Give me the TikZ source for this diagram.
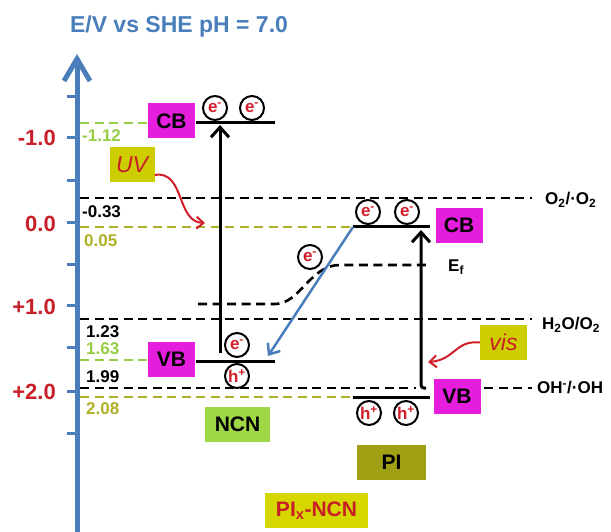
\documentclass[tikz,border=0pt]{standalone}
\usepackage{fontspec}
\setmainfont{Liberation Sans}
\usetikzlibrary{arrows.meta}
\definecolor{axblue}{RGB}{74,126,187}
\definecolor{tickred}{RGB}{200,30,40}
\definecolor{lgreen}{RGB}{150,205,70}
\definecolor{olivel}{RGB}{175,175,40}
\definecolor{magbox}{RGB}{228,30,220}
\definecolor{ncngreen}{RGB}{160,215,70}
\definecolor{uvbox}{RGB}{205,205,0}
\definecolor{pibox}{RGB}{160,160,20}
\definecolor{pixbox}{RGB}{215,215,0}
\definecolor{ered}{RGB}{210,30,40}
\begin{document}
\begin{tikzpicture}[x=1pt,y=-1pt,
  bandbox/.style={fill=magbox, minimum width=47pt, minimum height=35pt, inner sep=0pt, font=\fontsize{21}{21}\selectfont\bfseries},
  namebox/.style={minimum height=35pt, inner sep=0pt, font=\fontsize{21}{21}\selectfont\bfseries},
  lightbox/.style={fill=uvbox, minimum width=45pt, minimum height=35pt, inner sep=0pt, text=tickred, font=\fontsize{23}{23}\selectfont\itshape},
  bandline/.style={line width=3pt},
  lvldash/.style={dash pattern=on 9pt off 5.5pt, line width=2.6pt},
  carrier/.style={circle, draw, line width=2pt, minimum size=24pt, inner sep=0pt, text=ered, font=\fontsize{17}{17}\selectfont\bfseries},
  lvllabel/.style={anchor=west, inner sep=0pt, font=\fontsize{17}{17}\selectfont\bfseries},
  ticklabel/.style={anchor=east, inner sep=0pt, text=tickred, font=\fontsize{22}{22}\selectfont\bfseries},
  redoxlabel/.style={anchor=west, inner sep=0pt, font=\fontsize{17}{17}\selectfont\bfseries},
  blackarrow/.style={line width=3pt, -{Straight Barb[length=10pt,width=18pt,line width=3pt]}},
  redarrow/.style={draw=ered, line width=2pt, -{Straight Barb[length=7pt,width=12pt,line width=2pt]}}
]
\useasboundingbox (0,0) rectangle (611,532);

% title
\node[text=axblue, font=\fontsize{23}{23}\selectfont\bfseries] (title) at (179,27) {E/V vs SHE pH = 7.0};

% axis
\coordinate (axbot) at (77,532);
\coordinate (axtop) at (77,54);
\draw[axblue, line width=5pt, -{Straight Barb[length=22pt,width=26pt,line width=5pt]}] (axbot) -- (axtop);
\foreach \yy in {97,138,181,223,264,305,347,391,433}
  \draw[axblue, line width=3pt] (67,\yy) -- (77,\yy);
\node[ticklabel] (t1) at (56,138) {-1.0};
\node[ticklabel] (t2) at (56,224) {0.0};
\node[ticklabel] (t3) at (56,307) {+1.0};
\node[ticklabel] (t4) at (56,392) {+2.0};

% dashed levels
\draw[lvldash, lgreen] (80,123) -- (148,123);
\node[lvllabel, text=lgreen] (l112) at (82,136) {-1.12};
\draw[lvldash] (80,198) -- (532,198);
\node[lvllabel] (l033) at (82,212) {-0.33};
\draw[lvldash, olivel] (80,227) -- (353,227);
\node[lvllabel, text=olivel] (l005) at (84,241) {0.05};
\draw[lvldash] (80,319) -- (532,319);
\node[lvllabel] (l123) at (86,332) {1.23};
\draw[lvldash, lgreen] (80,360) -- (148,360);
\node[lvllabel, text=lgreen] (l163) at (86,349) {1.63};
\draw[lvldash] (80,388) -- (416,388);
\draw[lvldash] (484,388) -- (532,388);
\node[lvllabel] (l199) at (86,377) {1.99};
\draw[lvldash, olivel] (80,397) -- (353,397);
\node[lvllabel, text=olivel] (l208) at (86,409) {2.08};
% Fermi level
\draw[lvldash] (198,304) -- (275,304) .. controls (300,304) and (310,265) .. (340,265) -- (427,265);
\node[redoxlabel] (ef) at (448,267) {E\textsubscript{f}};

% redox labels
\node[redoxlabel] (o2) at (545,200) {O\textsubscript{2}/·O\textsubscript{2}};
\node[redoxlabel] (h2o) at (542,325) {H\textsubscript{2}O/O\textsubscript{2}};
\node[redoxlabel] (oh) at (537,388) {OH\textsuperscript{-}/·OH};

% NCN bands
\node[bandbox] (ncncb) at (171.5,121) {CB};
\coordinate (ncncbL) at (196,123);
\coordinate (ncncbR) at (275,123);
\draw[bandline] (ncncbL) -- (ncncbR);
\node[carrier] (e1) at (215,108) {e\textsuperscript{-}};
\node[carrier] (e2) at (252,108) {e\textsuperscript{-}};

\node[bandbox] (ncnvb) at (171.5,359.5) {VB};
\coordinate (ncnvbL) at (196,361);
\coordinate (ncnvbR) at (275,361);
\draw[bandline] (ncnvbL) -- (ncnvbR);
\node[carrier] (e3) at (237,345) {e\textsuperscript{-}};
\node[carrier] (h1) at (237,376) {h\textsuperscript{+}};

\coordinate (ncnup0) at (220,353);
\coordinate (ncnup1) at (220,125);
\draw[blackarrow] (ncnup0) -- (ncnup1);

\node[namebox, fill=ncngreen, minimum width=65pt] (ncn) at (237.5,424) {NCN};

% PI bands
\coordinate (picbL) at (353,227);
\coordinate (picbR) at (430,227);
\draw[bandline] (picbL) -- (picbR);
\node[carrier] (e4) at (368,212) {e\textsuperscript{-}};
\node[carrier] (e5) at (407,212) {e\textsuperscript{-}};
\node[bandbox] (picb) at (459,225.5) {CB};

\coordinate (pivbL) at (353,397);
\coordinate (pivbR) at (430,397);
\draw[bandline] (pivbL) -- (pivbR);
\node[carrier] (h2) at (369,413) {h\textsuperscript{+}};
\node[carrier] (h3) at (406,413) {h\textsuperscript{+}};
\node[bandbox] (pivb) at (457,396) {VB};

\coordinate (piup0) at (426,388);
\coordinate (piup1) at (421,230);
\draw[blackarrow, rounded corners=3pt] (piup0) -- (421,388) -- (piup1);

\node[namebox, fill=pibox, minimum width=69pt] (pi) at (391.5,462.5) {PI};
\node[namebox, fill=pixbox, minimum width=103pt, text=tickred] (pix) at (316.5,510.5) {PI\textsubscript{x}-NCN};

% electron transfer
\coordinate (ncnvbT) at (268,356);
\draw[axblue, line width=2.5pt, -{Straight Barb[length=9pt,width=15pt,line width=2.5pt]}] (picbL) -- (ncnvbT);
\node[carrier] (e6) at (310,257) {e\textsuperscript{-}};

% light
\node[lightbox] (uv) at (132,165) {UV};
\coordinate (uvend) at (205,223);
\draw[redarrow] (uv.east |- 0,175) .. controls (185,170) and (176,222) .. (uvend);
\node[lightbox, minimum width=47pt] (vis) at (503.5,342.5) {vis};
\coordinate (visend) at (428,362);
\draw[redarrow] (vis.west) .. controls (455,340) and (455,360) .. (visend);
\end{tikzpicture}
\end{document}
